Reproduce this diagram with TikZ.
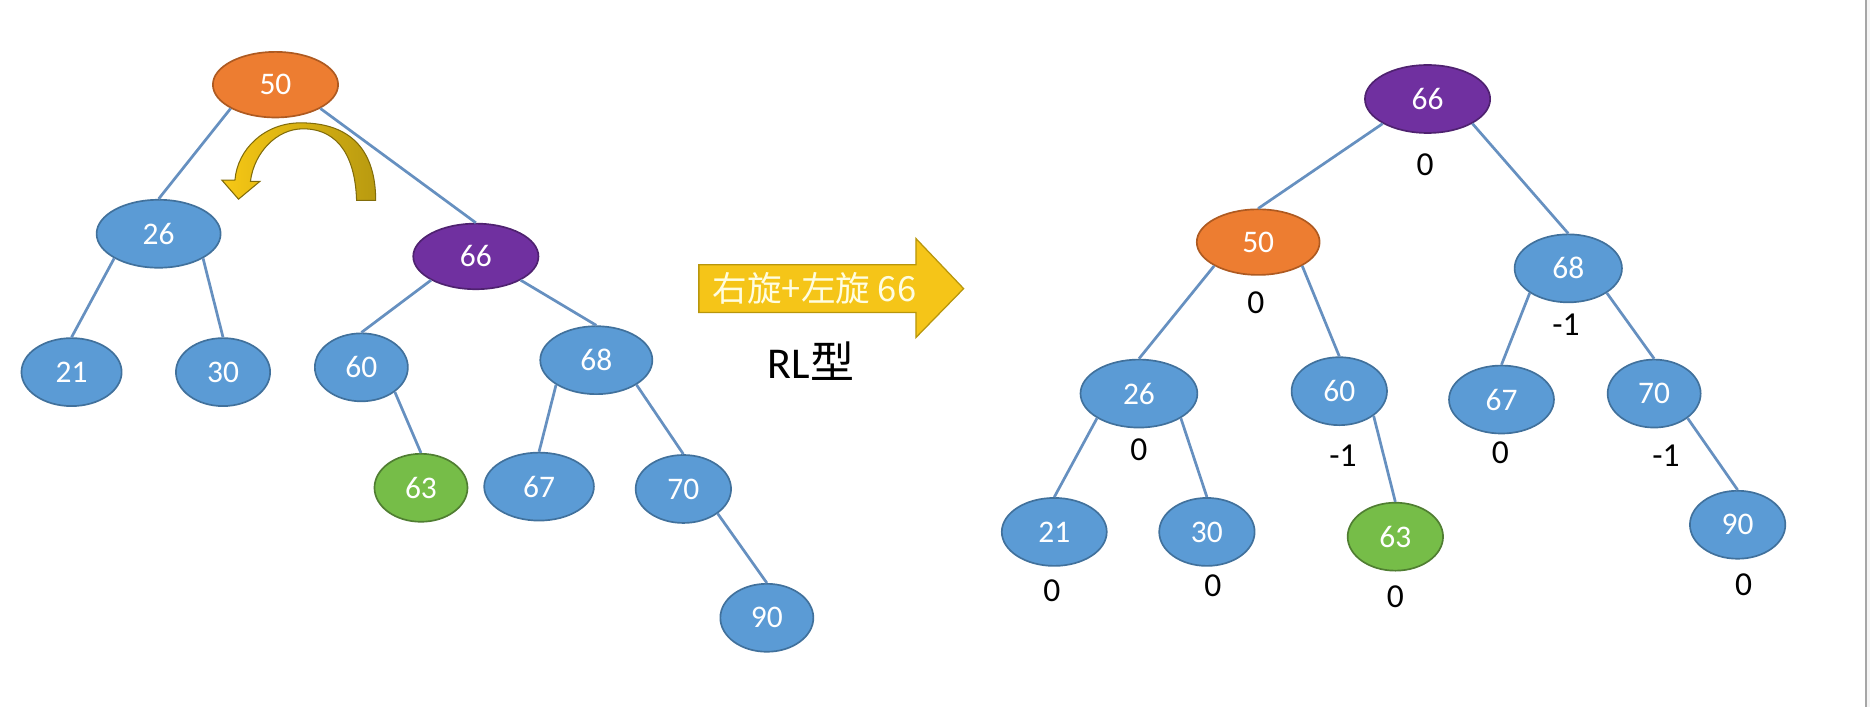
\documentclass[tikz,border=0pt]{standalone}
\usepackage{fontspec}
\setmainfont{Carlito}
\newfontfamily\cjk{Noto Sans CJK SC}
\usetikzlibrary{shapes.geometric}
\definecolor{keyblue}{HTML}{5B9BD5}
\definecolor{keyline}{HTML}{41719C}
\definecolor{keyorange}{HTML}{ED7D31}
\definecolor{orangeline}{HTML}{AE5A21}
\definecolor{keypurple}{HTML}{7030A0}
\definecolor{purpleline}{HTML}{4F2270}
\definecolor{keygreen}{HTML}{76BD48}
\definecolor{greenline}{HTML}{507E32}
\definecolor{edgeblue}{HTML}{6690C0}
\definecolor{arrowgold}{HTML}{F5C518}
\definecolor{arrowline}{HTML}{B8960C}
\definecolor{turnyellow}{HTML}{F7C815}
\definecolor{turnolive}{HTML}{B89A10}
\begin{document}
\begin{tikzpicture}[x=0.02cm, y=-0.02cm,
        key/.style={ellipse, draw=keyline, fill=keyblue, line width=0.8pt, text=white,
            inner sep=0pt, minimum width=1.6cm, minimum height=1.14cm,
            font=\fontsize{15}{15}\selectfont},
        redkey/.style={key, fill=keyorange, draw=orangeline},
        topkey/.style={key, fill=keypurple, draw=purpleline},
        newkey/.style={key, fill=keygreen, draw=greenline},
        wd/.style={minimum width=#1*0.02cm},
        bal/.style={inner sep=0pt, font=\fontsize{16}{16}\selectfont},
        edge/.style={draw=edgeblue, line width=1.3pt}
    ]
        \useasboundingbox (0,0) rectangle (1568,593);

        % Vorher (links)
        \node[redkey, wd=105, minimum height=1.1cm] (L50) at (231,71) {50};
        \node[key, wd=104] (L26) at (133,196) {26};
        \node[topkey, wd=105, minimum height=1.1cm] (L66) at (399,215) {66};
        \node[key, wd=84] (L21) at (60,312) {21};
        \node[key, wd=79] (L30) at (187,312) {30};
        \node[key, wd=78] (L60) at (303,308) {60};
        \node[key, wd=94] (L68) at (500,302) {68};
        \node[newkey, wd=78] (L63) at (353,409) {63};
        \node[key, wd=92] (L67) at (452,408) {67};
        \node[key, wd=80] (L70) at (573,410) {70};
        \node[key, wd=78] (L90) at (643,518) {90};

        % linke Kinder
        \foreach \a/\b in {L50/L26, L26/L21, L66/L60, L68/L67}
            \draw[edge] (\a.south west) -- (\b.north);
        % rechte Kinder
        \foreach \a/\b in {L50/L66, L26/L30, L66/L68, L60/L63, L68/L70, L70/L90}
            \draw[edge] (\a.south east) -- (\b.north);

        % Drehpfeil
        \shade[left color=turnyellow, right color=turnolive, draw=turnolive!70!black, line width=0.5pt]
            (315,168) .. controls (315,128) and (296,103) .. (252,103)
            .. controls (222,103) and (199,125) .. (197,151)
            -- (186,151) -- (200,167) -- (218,152) -- (210,152)
            .. controls (213,128) and (232,108) .. (254,108)
            .. controls (286,108) and (298,135) .. (299,168) -- cycle;

        % Mittelpfeil
        \filldraw[fill=arrowgold, draw=arrowline, line width=0.6pt]
            (586,222) -- (768,222) -- (768,200) -- (808,242)
            -- (768,283) -- (768,262) -- (586,262) -- cycle;
        \node[text=white!88!yellow, font=\cjk\fontsize{16.5}{16.5}\selectfont] (rot) at (683,242) {右旋+左旋 66};
        \node[font=\fontsize{21}{21}\selectfont] (typ) at (680,303) {RL{\cjk 型}};

        % Nachher (rechts)
        \node[topkey, wd=105] (R66) at (1197,83) {66};
        \node[redkey, wd=103, minimum height=1.1cm] (R50) at (1055,203) {50};
        \node[key, wd=90] (R68) at (1315,225) {68};
        \node[key, wd=98] (R26) at (955,330) {26};
        \node[key, wd=80] (R60) at (1123,328) {60};
        \node[key, wd=88] (R67) at (1259,335) {67};
        \node[key, wd=78] (R70) at (1387,330) {70};
        \node[key, wd=88] (R21) at (884,446) {21};
        \node[key, wd=80] (R30) at (1012,446) {30};
        \node[newkey, wd=80] (R63) at (1170,450) {63};
        \node[key, wd=80] (R90) at (1457,440) {90};

        \foreach \a/\b in {R66/R50, R50/R26, R26/R21, R68/R67}
            \draw[edge] (\a.south west) -- (\b.north);
        \foreach \a/\b in {R66/R68, R50/R60, R26/R30, R60/R63, R68/R70, R70/R90}
            \draw[edge] (\a.south east) -- (\b.north);

        % Balancefaktoren
        \foreach \k/\x/\y/\v in {66/1195/138/0, 50/1053/254/0, 68/1313/272/-1,
                                 26/955/377/0, 60/1126/382/-1, 67/1258/380/0,
                                 70/1397/382/-1, 21/882/495/0, 30/1017/491/0,
                                 63/1170/500/0, 90/1462/490/0}
            \node[bal] (b\k) at (\x,\y) {\v};

        % Rand
        \fill[gray!8] (1565,0) rectangle (1568,593);
        \draw[gray!70, line width=1pt] (1565,0) -- (1565,593);
    \end{tikzpicture}
\end{document}
